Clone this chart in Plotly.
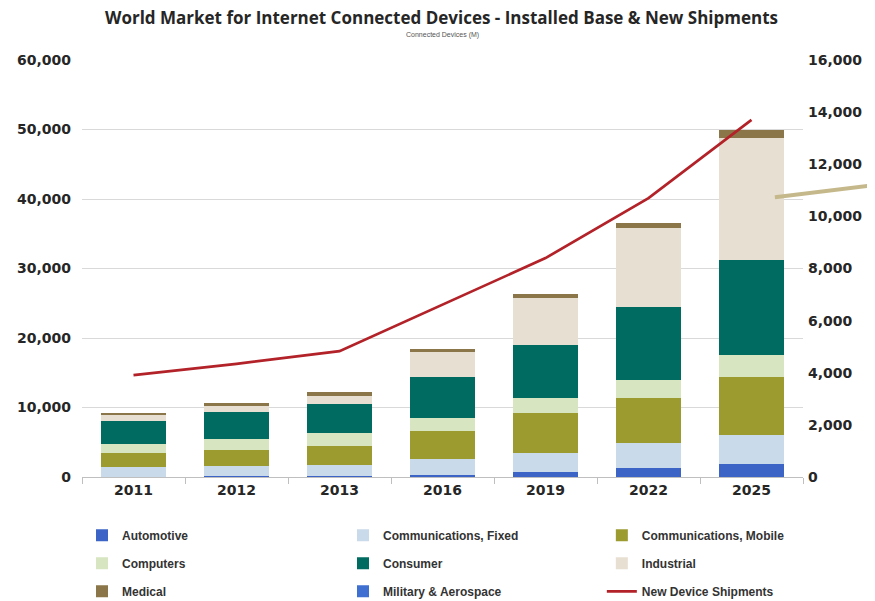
import plotly.graph_objects as go

years = ["2011", "2012", "2013", "2016", "2019", "2022", "2025"]
automotive = [60, 100, 180, 350, 650, 1300, 1930]
comm_fixed = [1350, 1500, 1550, 2260, 2790, 3600, 4070]
comm_mobile = [2010, 2300, 2780, 3970, 5760, 6480, 8390]
computers = [1340, 1540, 1780, 1930, 2160, 2640, 3120]
consumer = [3350, 3970, 4220, 5900, 7650, 10460, 13670]
industrial = [780, 820, 1200, 3600, 6750, 11300, 17560]
medical = [370, 480, 470, 390, 630, 720, 1150]
military = [0, 0, 0, 0, 0, 0, 0]
shipments = [3910, 4340, 4830, 6600, 8400, 10700, 13700]

series = [
    ("Automotive", automotive, "#3B64C6", "legend"),
    ("Communications, Fixed", comm_fixed, "#C9DAEA", "legend2"),
    ("Communications, Mobile", comm_mobile, "#9C9B30", "legend3"),
    ("Computers", computers, "#D7E5C0", "legend"),
    ("Consumer", consumer, "#006B61", "legend2"),
    ("Industrial", industrial, "#E7DFD2", "legend3"),
    ("Medical", medical, "#8A7648", "legend"),
    ("Military & Aerospace", military, "#3F6FD0", "legend2"),
]

fig = go.Figure()
for name, vals, color, lg in series:
    fig.add_trace(go.Bar(
        x=years, y=vals, name=name, marker=dict(color=color, line=dict(width=0)),
        legend=lg, legendgroup=name, yaxis="y",
    ))

fig.add_trace(go.Scatter(
    x=years, y=shipments, name="New Device Shipments", mode="lines",
    line=dict(color="#B22228", width=2.7), yaxis="y2",
    legend="legend3", legendgroup="ship",
))

tickfont = dict(family="DejaVu Sans", size=14, color="#262626", weight="bold")
legfont = dict(family="Liberation Sans", size=12, color="#333333", weight="bold")

leg_common = dict(orientation="v", yanchor="top", y=-0.105, xanchor="left",
                  font=legfont, tracegroupgap=9, bgcolor="rgba(0,0,0,0)",
                  itemwidth=30)

W, H = 867, 593
fig.update_layout(
    width=W, height=H,
    margin=dict(l=74, r=72, t=52, b=124, autoexpand=False),
    paper_bgcolor="white", plot_bgcolor="white",
    barmode="stack", bargap=0.37,
    title=dict(text="World Market for Internet Connected Devices - Installed Base & New Shipments",
               x=0.5, xanchor="center", y=1 - 4 / H, yanchor="top",
               font=dict(family="Open Sans", size=17, color="#262626", weight="bold")),
    xaxis=dict(type="category", range=[-0.5, 6.5], tickson="boundaries", ticks="outside",
               ticklen=6, tickcolor="#BFBFBF", showline=True, linecolor="#BFBFBF",
               showgrid=False, tickfont=tickfont, automargin=False),
    yaxis=dict(range=[0, 60000], dtick=10000, tickformat=",", showgrid=True,
               gridcolor="#D9D9D9", gridwidth=1, zeroline=False, ticks="",
               tickfont=tickfont, ticklabelstandoff=10, automargin=False),
    yaxis2=dict(range=[0, 16000], dtick=2000, tickformat=",", overlaying="y", side="right",
                showgrid=False, zeroline=False, ticks="", tickfont=tickfont,
                ticklabelstandoff=4, automargin=False),
    legend=dict(x=0.0, **leg_common),
    legend2=dict(x=0.362, **leg_common),
    legend3=dict(x=0.721, **leg_common),
    annotations=[dict(text="Connected Devices (M)", x=0.5, xref="paper", xanchor="center",
                      y=(477 - 35) / 417, yref="paper", yanchor="middle", showarrow=False,
                      font=dict(family="Liberation Sans", size=7, color="#555555"))],
    shapes=[dict(type="line", xref="paper", yref="paper", x0=0.961, y0=0.671, x1=1.1, y1=0.700,
                 line=dict(color="#C5B98C", width=4))],
    showlegend=True,
)

fig.write_html("out.html")
